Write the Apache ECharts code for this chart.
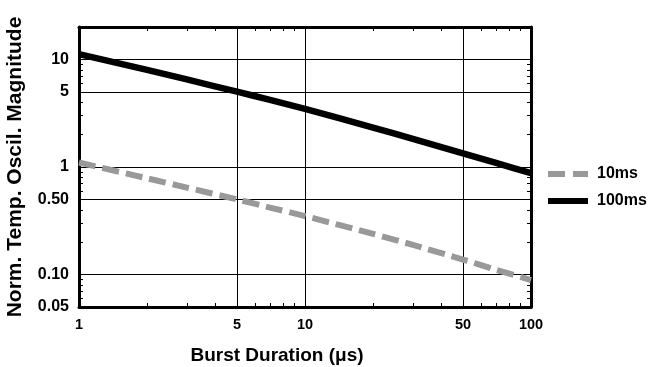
<!DOCTYPE html>
<html>
<head>
<meta charset="utf-8">
<script src="https://cdn.jsdelivr.net/npm/echarts@6/dist/echarts.min.js"></script>
<style>
  html, body { margin: 0; padding: 0; background: #fff; }
  #chart { width: 649px; height: 367px; }
</style>
</head>
<body>
<div id="chart"></div>
<script>
// Data (log-log plot)
const burstDurations = [1, 2, 3, 5, 7, 10, 20, 30, 50, 70, 100];
const magnitude10ms = [1.10, 0.785, 0.644, 0.50, 0.42, 0.35, 0.239, 0.189, 0.138, 0.111, 0.089];
const magnitude100ms = [11.2, 7.98, 6.51, 5.01, 4.21, 3.47, 2.32, 1.83, 1.34, 1.09, 0.875];

const xMajorTicks = [1, 5, 10, 50, 100];
const xMinorTicks = [2, 3, 4, 6, 7, 8, 9, 20, 30, 40, 60, 70, 80, 90];
const yMajorTicks = [0.05, 0.1, 0.5, 1, 5, 10];
const yTickLabels = ['0.05', '0.10', '0.50', '1', '5', '10'];
const yMinorTicks = [0.06, 0.07, 0.08, 0.09, 0.2, 0.3, 0.4, 0.6, 0.7, 0.8, 0.9, 2, 3, 4, 6, 7, 8, 9];

const FONT = 'Liberation Sans';

const chartDom = document.getElementById('chart');
const myChart = echarts.init(chartDom);

const blackLine = { color: '#000', width: 3 };

// minor-tick-only axis helper
const minorAxis = (position, values, showLine, extent) => ({
    type: 'log',
    logBase: 10,
    min: extent[0],
    max: extent[1],
    position: position,
    axisLine: { show: showLine, onZero: false, lineStyle: blackLine },
    axisTick: { show: true, inside: true, length: 4, customValues: values, lineStyle: { color: '#000', width: 1 } },
    axisLabel: { show: false },
    splitLine: { show: false }
});

const option = {
    animation: false,
    textStyle: { fontFamily: FONT },
    grid: {
        left: 79,
        right: 118,
        top: 27,
        bottom: 60,
        containLabel: false,
        outerBoundsMode: 'none'
    },
    legend: {
        orient: 'vertical',
        left: 543,
        top: 161,
        itemWidth: 40,
        itemHeight: 6,
        itemGap: 11,
        textStyle: { fontFamily: FONT, fontWeight: 'bold', fontSize: 16, color: '#000', padding: [0, 0, 0, 4] },
        data: [
            { name: '10ms', icon: 'path://M0,0H17V6H0Z M25,0H40V6H25Z', itemStyle: { color: '#999999' } },
            { name: '100ms', icon: 'rect', itemStyle: { color: '#000' } }
        ]
    },
    xAxis: [
        {
            type: 'log',
            logBase: 10,
            min: 1,
            max: 100,
            position: 'bottom',
            name: 'Burst Duration (μs)',
            nameLocation: 'middle',
            nameGap: 39,
            nameTextStyle: { fontFamily: FONT, fontWeight: 'bold', fontSize: 19, color: '#000', padding: [0, 56, 0, 0] },
            axisLine: { show: true, onZero: false, lineStyle: blackLine },
            axisTick: { show: false, customValues: xMajorTicks },
            axisLabel: {
                customValues: xMajorTicks,
                margin: 10,
                fontFamily: FONT, fontWeight: 'bold', fontSize: 14.5, color: '#000'
            },
            splitLine: { show: true, lineStyle: { color: '#000', width: 1 } }
        },
        minorAxis('bottom', xMinorTicks, false, [1, 100]),
        minorAxis('top', xMinorTicks, true, [1, 100])
    ],
    yAxis: [
        {
            type: 'log',
            logBase: 10,
            min: 0.05,
            max: 20,
            position: 'left',
            name: 'Norm. Temp. Oscil. Magnitude',
            nameLocation: 'middle',
            nameGap: 53,
            nameTextStyle: { fontFamily: FONT, fontWeight: 'bold', fontSize: 21, color: '#000' },
            axisLine: { show: true, onZero: false, lineStyle: blackLine },
            axisTick: { show: false, customValues: yMajorTicks },
            axisLabel: {
                customValues: yMajorTicks,
                margin: 10,
                fontFamily: FONT, fontWeight: 'bold', fontSize: 16, color: '#000',
                formatter: function (value) {
                    const i = yMajorTicks.findIndex(v => Math.abs(v - value) / v < 1e-6);
                    return i >= 0 ? yTickLabels[i] : '';
                }
            },
            splitLine: { show: true, lineStyle: { color: '#000', width: 1 } }
        },
        minorAxis('left', yMinorTicks, false, [0.05, 20]),
        minorAxis('right', yMinorTicks, true, [0.05, 20])
    ],
    series: [
        {
            name: '10ms',
            type: 'line',
            xAxisIndex: 0,
            yAxisIndex: 0,
            data: burstDurations.map((x, i) => [x, magnitude10ms[i]]),
            smooth: 0.2,
            symbol: 'none',
            itemStyle: { color: '#999999' },
            lineStyle: { color: '#999999', width: 6, type: [17, 7], cap: 'butt' }
        },
        {
            name: '100ms',
            type: 'line',
            xAxisIndex: 0,
            yAxisIndex: 0,
            data: burstDurations.map((x, i) => [x, magnitude100ms[i]]),
            smooth: 0.2,
            symbol: 'none',
            itemStyle: { color: '#000' },
            lineStyle: { color: '#000', width: 6.5 }
        }
    ]
};

myChart.setOption(option);
window.addEventListener('resize', () => myChart.resize());
</script>
</body>
</html>
